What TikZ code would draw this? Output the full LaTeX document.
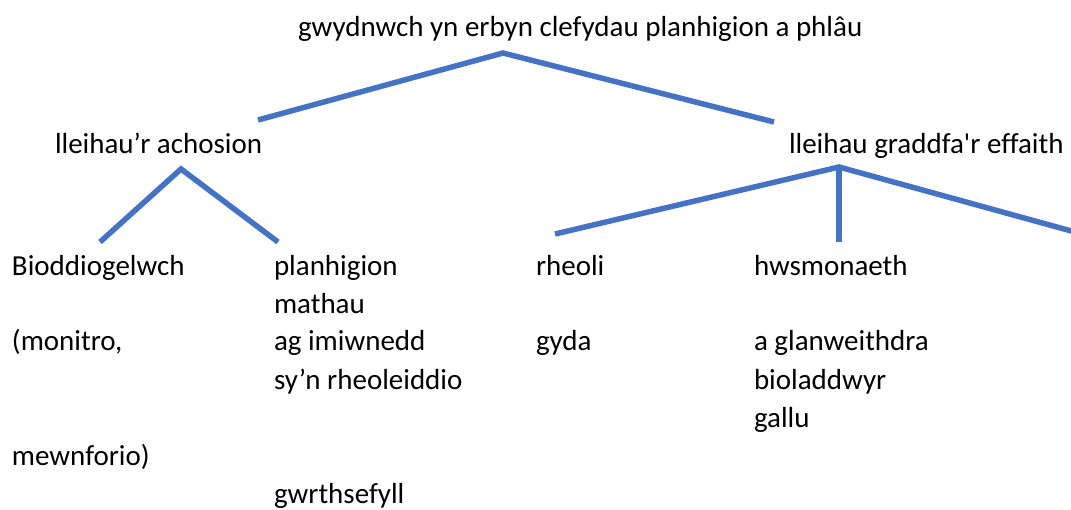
\documentclass[tikz,border=0pt]{standalone}
\usepackage{fontspec}
\setmainfont{Carlito}[Ligatures={TeXOff,CommonOff}]
\definecolor{lineblue}{HTML}{4472C4}
\tikzset{
  lbl/.style={anchor=base west, inner sep=0pt, outer sep=0pt, font=\fontsize{29}{35}\selectfont},
  conn/.style={draw=lineblue, line width=5.5pt}
}
\begin{document}
\begin{tikzpicture}[x=1pt,y=-1pt]
\useasboundingbox (0,0) rectangle (1071,509);
% texts
\node[lbl] (title) at (298,36) {gwydnwch yn erbyn clefydau planhigion a phlâu};
\node[lbl] (left) at (55,153) {lleihau’r achosion};
\node[lbl] (right) at (789,153) {lleihau graddfa'r effaith};
\node[lbl] (bio) at (12,275) {Bioddiogelwch};
\node[lbl] (mon) at (12,350) {(monitro,};
\node[lbl] (mew) at (12,465) {mewnforio)};
\node[lbl] (plan) at (274,275) {planhigion};
\node[lbl] (math) at (274,313) {mathau};
\node[lbl] (ag) at (274,350) {ag imiwnedd};
\node[lbl] (syn) at (274,389) {sy’n rheoleiddio};
\node[lbl] (gwr) at (274,503) {gwrthsefyll};
\node[lbl] (rhe) at (536,275) {rheoli};
\node[lbl] (gyda) at (536,350) {gyda};
\node[lbl] (hws) at (754,275) {hwsmonaeth};
\node[lbl] (agl) at (754,350) {a glanweithdra};
\node[lbl] (biol) at (754,389) {bioladdwyr};
\node[lbl] (gall) at (754,427) {gallu};
% connector ends
\coordinate (a0) at (503,53);
\coordinate (a1) at (258,120);
\coordinate (a2) at (774,122);
\coordinate (b0) at (181,169);
\coordinate (b1) at (100,242);
\coordinate (b2) at (278,242);
\coordinate (c0) at (839,167);
\coordinate (c1) at (555,234);
\coordinate (c2) at (839,242);
\coordinate (c3) at (1075,232);
% connectors
\draw[conn] (a1) -- (a0) -- (a2);
\draw[conn] (b1) -- (b0) -- (b2);
\draw[conn] (c1) -- (c0) -- (c3);
\draw[conn] (c0) -- (c2);
\end{tikzpicture}
\end{document}
